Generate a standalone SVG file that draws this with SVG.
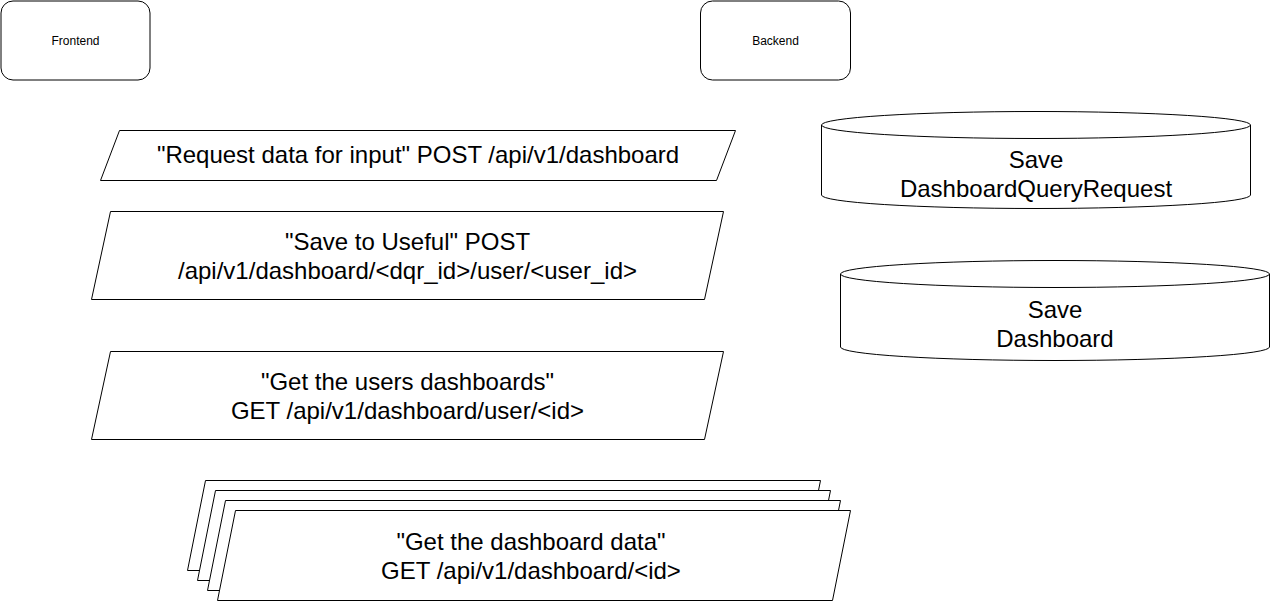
<svg xmlns="http://www.w3.org/2000/svg" width="1271" height="601" viewBox="0 0 1271 601">
<style>
.s{fill:#fff;stroke:#000;stroke-width:1}
.t{font-family:"Liberation Sans",Arial,Helvetica,sans-serif;fill:#000;text-anchor:middle}
.big{font-size:24px}
.small{font-size:12px}
</style>
<rect width="1271" height="601" fill="#fff"/>
<g id="frontend">
<rect class="s" x="1" y="1" width="149" height="79" rx="12" ry="12"/>
<text class="t small" x="75.5" y="44.5">Frontend</text>
</g>
<g id="backend">
<rect class="s" x="700.5" y="1" width="150" height="79" rx="12" ry="12"/>
<text class="t small" x="775.5" y="44.5">Backend</text>
</g>
<g id="req-data">
<polygon class="s" points="119.5,130.5 735.5,130.5 716.5,180.5 100.5,180.5"/>
<text class="t big" x="418" y="163">"Request data for input" POST /api/v1/dashboard</text>
</g>
<g id="save-useful">
<polygon class="s" points="110.5,211.5 723.5,211.5 704.5,299.5 91.5,299.5"/>
<text class="t big" x="407.5" y="249.5">"Save to Useful" POST</text>
<text class="t big" x="407.5" y="278.5">/api/v1/dashboard/&lt;dqr_id&gt;/user/&lt;user_id&gt;</text>
</g>
<g id="get-users-dashboards">
<polygon class="s" points="110.5,351.5 723.5,351.5 704.5,439.5 91.5,439.5"/>
<text class="t big" x="407.5" y="389.5">"Get the users dashboards"</text>
<text class="t big" x="407.5" y="418.5">GET /api/v1/dashboard/user/&lt;id&gt;</text>
</g>
<g id="get-dashboard-data">
<polygon class="s" points="205.5,480.5 820.5,480.5 802.5,570.5 187.5,570.5"/>
<polygon class="s" points="215.5,490.5 830.5,490.5 812.5,580.5 197.5,580.5"/>
<polygon class="s" points="225.5,500.5 840.5,500.5 822.5,590.5 207.5,590.5"/>
<polygon class="s" points="235.5,510.5 850.5,510.5 832.5,600.5 217.5,600.5"/>
<text class="t big" x="531" y="549.5">"Get the dashboard data"</text>
<text class="t big" x="531" y="578.5">GET /api/v1/dashboard/&lt;id&gt;</text>
</g>
<g id="save-dqr">
<path class="s" d="M821.5,125 A214.5,13.5 0 0 1 1250.5,125 L1250.5,195 A214.5,13.5 0 0 1 821.5,195 Z"/>
<path fill="none" stroke="#000" d="M821.5,125 A214.5,13.5 0 0 0 1250.5,125"/>
<text class="t big" x="1036" y="168">Save</text>
<text class="t big" x="1036" y="197">DashboardQueryRequest</text>
</g>
<g id="save-dashboard">
<path class="s" d="M840.5,274 A214.5,13.5 0 0 1 1269.5,274 L1269.5,347 A214.5,13.5 0 0 1 840.5,347 Z"/>
<path fill="none" stroke="#000" d="M840.5,274 A214.5,13.5 0 0 0 1269.5,274"/>
<text class="t big" x="1055" y="318">Save</text>
<text class="t big" x="1055" y="347">Dashboard</text>
</g>
<g id="connectors"/>
</svg>
